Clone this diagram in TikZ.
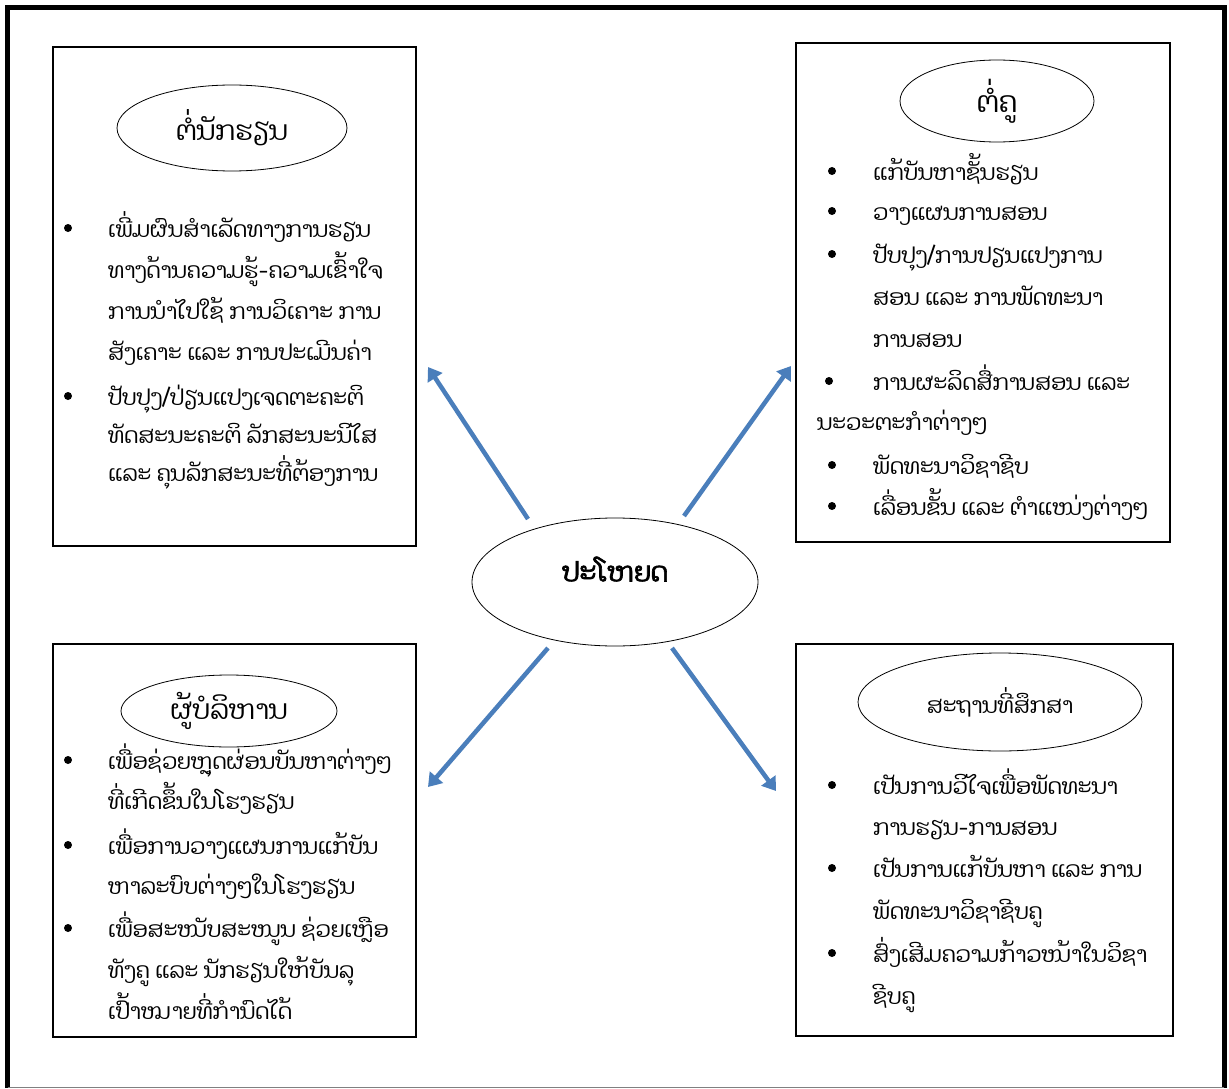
\documentclass[tikz,border=0pt]{standalone}
\usepackage{fontspec}
\setmainfont[Script=Lao]{Dhyana}
\newfontfamily\laofont[Script=Lao]{Dhyana}
\newfontfamily\laobold[Script=Lao,FakeBold=2.5]{Dhyana}
\usetikzlibrary{arrows.meta,shapes.geometric}
\definecolor{arrowblue}{HTML}{4A7EBB}
\newcommand\laolines[1]{\begin{tabular}[t]{@{}l@{}}#1\end{tabular}}
\tikzset{
  panel/.style={draw=black, line width=1.1pt},
  oval/.style={draw=black, line width=0.8pt, ellipse, inner sep=0pt},
  bodytext/.style={anchor=base west, inner sep=0pt, font=\laofont\fontsize{22}{41}\selectfont},
  dot/.style={circle, fill=black, inner sep=0pt, minimum size=8pt},
  linkarrow/.style={draw=arrowblue, line width=4.5pt, -{Triangle[width=17pt,length=13pt]}},
}
\begin{document}
\begin{tikzpicture}[x=1pt,y=-1pt]
\useasboundingbox (0,0) rectangle (1229,1089);
% outer frame
\draw[line width=5pt] (7.5,1088) -- (7.5,7.5) -- (1224,7.5) -- (1224,1088);
\draw[gray, line width=1pt] (7.5,1087.5) -- (1224,1087.5);

% panels
\draw[panel] (53,47) rectangle (416,546);
\draw[panel] (796,43) rectangle (1170,542);
\draw[panel] (53,644) rectangle (416,1037);
\draw[panel] (796,644) rectangle (1173,1036);

% ellipses
\node[oval, minimum width=230pt, minimum height=86pt] (tl) at (232,128) {\laofont\fontsize{27}{30}\selectfont ຕໍ່ນັກຮຽນ};
\node[oval, minimum width=194pt, minimum height=82pt] (tr) at (997,101) {\laofont\fontsize{29}{30}\selectfont ຕໍ່ຄູ};
\node[oval, minimum width=216pt, minimum height=72pt] (bl) at (229,711) {\laofont\fontsize{27}{30}\selectfont ຜູ້ບໍລິຫານ};
\node[oval, minimum width=284pt, minimum height=98pt] (br) at (1000,702) {\laofont\fontsize{22}{30}\selectfont ສະຖານທີ່ສຶກສາ};
\node[oval, minimum width=286pt, minimum height=128pt] (ctr) at (615,582) {};
\node[font=\laobold\fontsize{27}{30}\selectfont] (ctrtext) at (615,569) {ປະໂຫຍດ};

% arrows
\coordinate (tlA) at (528,519); \coordinate (tlB) at (428,367);
\coordinate (trA) at (684,516); \coordinate (trB) at (791,366);
\coordinate (blA) at (548,648); \coordinate (blB) at (428,787);
\coordinate (brA) at (672,648); \coordinate (brB) at (776,791);
\draw[linkarrow] (tlA) -- (tlB);
\draw[linkarrow] (trA) -- (trB);
\draw[linkarrow] (blA) -- (blB);
\draw[linkarrow] (brA) -- (brB);

% top-left content
\node[dot] (tld1) at (68,228) {};
\node[bodytext] (tlt1) at (108,237) {\laolines{ເພີ່ມຜົນສຳເລັດທາງການຮຽນ\\ທາງດ້ານຄວາມຮູ້-ຄວາມເຂົ້າໃຈ\\ການນຳໄປໃຊ້ ການວິເຄາະ ການ\\ສັງເຄາະ ແລະ ການປະເມີນຄ່າ}};
\node[dot] (tld2) at (68,396) {};
\node[bodytext, font=\laofont\fontsize{22}{38}\selectfont] (tlt2) at (108,405) {\laolines{ປັບປຸງ/ປ່ຽນແປງເຈດຕະຄະຕິ\\ທັດສະນະຄະຕິ ລັກສະນະນິໄສ\\ແລະ ຄຸນລັກສະນະທີ່ຕ້ອງການ}};

% top-right content
\node[dot] (trd1) at (832,171) {};
\node[bodytext] (trt1) at (873,180) {ແກ້ບັນຫາຊັ້ນຮຽນ};
\node[dot] (trd2) at (832,211) {};
\node[bodytext] (trt2) at (873,220) {ວາງແຜນການສອນ};
\node[dot] (trd3) at (832,254) {};
\node[bodytext, font=\laofont\fontsize{22}{42}\selectfont] (trt3) at (873,263) {\laolines{ປັບປຸງ/ການປຽນແປງການ\\ສອນ ແລະ ການພັດທະນາ\\ການສອນ}};
\node[dot] (trd4) at (829,381) {};
\node[bodytext] (trt4) at (873,390) {ການຜະລິດສື່ການສອນ ແລະ};
\node[bodytext] (trt4b) at (817,430) {ນະວະຕະກຳຕ່າງໆ};
\node[dot] (trd5) at (832,465) {};
\node[bodytext] (trt5) at (873,474) {ພັດທະນາວິຊາຊີບ};
\node[dot] (trd6) at (832,506) {};
\node[bodytext] (trt6) at (873,515) {ເລື່ອນຂັ້ນ ແລະ ຕຳແໜ່ງຕ່າງໆ};

% bottom-left content
\node[dot] (bld1) at (68,760) {};
\node[bodytext, font=\laofont\fontsize{22}{40}\selectfont] (blt1) at (108,769) {\laolines{ເພື່ອຊ່ວຍຫຼຸດຜ່ອນບັນຫາຕ່າງໆ\\ທີ່ເກີດຂຶ້ນໃນໂຮງຮຽນ}};
\node[dot] (bld2) at (68,845) {};
\node[bodytext, font=\laofont\fontsize{22}{40}\selectfont] (blt2) at (108,854) {\laolines{ເພື່ອການວາງແຜນການແກ້ບັນ\\ຫາລະບົບຕ່າງໆໃນໂຮງຮຽນ}};
\node[dot] (bld3) at (68,928) {};
\node[bodytext, font=\laofont\fontsize{22}{41}\selectfont] (blt3) at (108,937) {\laolines{ເພື່ອສະໜັບສະໜູນ ຊ່ວຍເຫຼືອ\\ທັງຄູ ແລະ ນັກຮຽນໃຫ້ບັນລຸ\\ເປົ້າໝາຍທີ່ກຳນົດໄດ້}};

% bottom-right content
\node[dot] (brd1) at (832,785) {};
\node[bodytext] (brt1) at (873,794) {\laolines{ເປັນການວິໄຈເພື່ອພັດທະນາ\\ການຮຽນ-ການສອນ}};
\node[dot] (brd2) at (832,868) {};
\node[bodytext, font=\laofont\fontsize{22}{42}\selectfont] (brt2) at (873,877) {\laolines{ເປັນການແກ້ບັນຫາ ແລະ ການ\\ພັດທະນາວິຊາຊີບຄູ}};
\node[dot] (brd3) at (832,953) {};
\node[bodytext, font=\laofont\fontsize{22}{42}\selectfont] (brt3) at (873,962) {\laolines{ສົ່ງເສີມຄວາມກ້າວໜ້າໃນວິຊາ\\ຊີບຄູ}};
\end{tikzpicture}
\end{document}
